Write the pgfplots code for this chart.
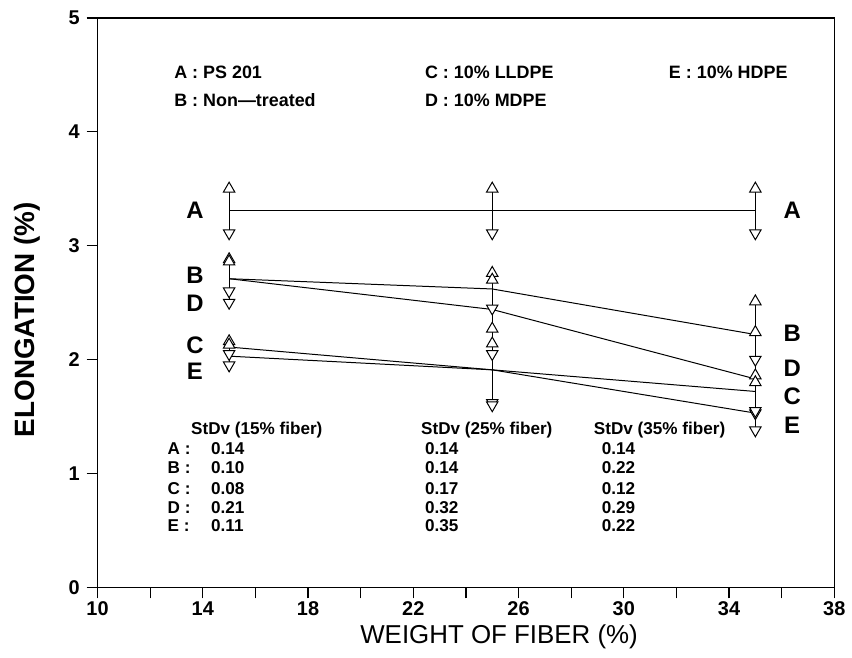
\documentclass[border=0pt]{standalone}
\usepackage{pgfplots}
\pgfplotsset{compat=1.18}
\usepackage{pgfplotstable}
\usepackage{fontspec}
\setmainfont{Liberation Sans}

% x = fiber weight, y = mean elongation, up/lo = ends of the error bar
\pgfplotstableread{
x  y    up   lo
15 3.31 3.50 3.11
25 3.31 3.50 3.11
35 3.31 3.50 3.11
}\dataA
\pgfplotstableread{
x  y    up   lo
15 2.71 2.88 2.60
25 2.62 2.76 2.45
35 2.22 2.51 2.00
}\dataB
\pgfplotstableread{
x  y    up   lo
15 2.11 2.16 2.05
25 1.91 2.14 1.62
35 1.72 1.86 1.53
}\dataC
\pgfplotstableread{
x  y    up   lo
15 2.71 2.86 2.50
25 2.44 2.70 2.05
35 1.83 2.24 1.55
}\dataD
\pgfplotstableread{
x  y    up   lo
15 2.03 2.13 1.95
25 1.91 2.27 1.60
35 1.53 1.80 1.38
}\dataE

\pgfplotsset{
  meanline/.style={black, line width=0.5pt, mark=none},
  ebar/.style={draw=none, mark=none, forget plot,
    error bars/.cd, y dir=both, y explicit,
    error bar style={black, line width=0.5pt}, error mark=none},
  upmark/.style={only marks, mark=triangle*, mark size=3.3pt,
    mark options={fill=white, draw=black, line width=0.5pt}},
  lomark/.style={only marks, mark=triangle*, mark size=3.3pt,
    mark options={fill=white, draw=black, line width=0.5pt, rotate=180}},
}

\newcommand{\series}[1]{%
  \addplot[meanline] table[x=x, y=y] {#1};
  \addplot[ebar] table[x=x, y=y,
    y error plus expr=\thisrow{up}-\thisrow{y},
    y error minus expr=\thisrow{y}-\thisrow{lo}] {#1};
  \addplot[upmark] table[x=x, y=up] {#1};
  \addplot[lomark] table[x=x, y=lo] {#1};
}

\begin{document}
\begin{tikzpicture}
\begin{axis}[
  scale only axis,
  width=370pt, height=286pt,
  xmin=10, xmax=38, ymin=0, ymax=5,
  xtick={10,12,...,38},
  xticklabels={10,,14,,18,,22,,26,,30,,34,,38},
  ytick={0,1,2,3,4,5},
  tick align=outside, xtick pos=bottom, ytick pos=left,
  major tick length=5.5pt,
  tick style={black, line width=0.6pt},
  axis line style={line width=0.7pt},
  xlabel={WEIGHT OF FIBER (\%)},
  ylabel={ELONGATION (\%)},
  every axis x label/.style={at={(axis description cs:0.545,0)},
    anchor=center, yshift=-25pt, font=\fontsize{13}{15}\selectfont},
  every axis y label/.style={at={(axis description cs:0,0.47)},
    xshift=-35.5pt, anchor=center, rotate=90,
    font=\bfseries\fontsize{14}{16}\selectfont},
  ticklabel style={font=\bfseries\fontsize{10}{11}\selectfont},
  xticklabel style={yshift=2pt},
  /pgf/number format/assume math mode=true,
  clip=false,
]
\series{\dataA}
\series{\dataB}
\series{\dataC}
\series{\dataD}
\series{\dataE}

% corners of the page around the axis
\coordinate (bl) at (rel axis cs:0,0);
\coordinate (tr) at (rel axis cs:1,1);

% curve letters
\begin{scope}[every node/.style={font=\bfseries\fontsize{12}{14}\selectfont}]
\node at (axis cs:13.7,3.31) {A};
\node at (axis cs:13.7,2.74) {B};
\node at (axis cs:13.7,2.49) {D};
\node at (axis cs:13.7,2.13) {C};
\node at (axis cs:13.7,1.90) {E};
\node at (axis cs:36.4,3.31) {A};
\node at (axis cs:36.4,2.23) {B};
\node at (axis cs:36.4,1.92) {D};
\node at (axis cs:36.4,1.68) {C};
\node at (axis cs:36.4,1.42) {E};
\end{scope}

% key
\begin{scope}[every node/.style={font=\bfseries\fontsize{9}{11}\selectfont, anchor=west}]
\node at (axis cs:12.65,4.52) {A : PS 201};
\node at (axis cs:12.65,4.28) {B : Non---treated};
\node at (axis cs:22.18,4.52) {C : 10\% LLDPE};
\node at (axis cs:22.18,4.28) {D : 10\% MDPE};
\node at (axis cs:31.45,4.52) {E : 10\% HDPE};
\end{scope}

% standard deviations
\begin{scope}[every node/.style={font=\bfseries\fontsize{8.6}{10}\selectfont, anchor=west}]
\node at (axis cs:13.29,1.38) {StDv (15\% fiber)};
\node at (axis cs:22.03,1.38) {StDv (25\% fiber)};
\node at (axis cs:28.60,1.38) {StDv (35\% fiber)};
\node at (axis cs:12.40,1.22) {A :};
\node at (axis cs:12.40,1.05) {B :};
\node at (axis cs:12.40,0.87) {C :};
\node at (axis cs:12.40,0.70) {D :};
\node at (axis cs:12.40,0.54) {E :};
\node at (axis cs:14.05,1.22) {0.14};
\node at (axis cs:14.05,1.05) {0.10};
\node at (axis cs:14.05,0.87) {0.08};
\node at (axis cs:14.05,0.70) {0.21};
\node at (axis cs:14.05,0.54) {0.11};
\node at (axis cs:22.18,1.22) {0.14};
\node at (axis cs:22.18,1.05) {0.14};
\node at (axis cs:22.18,0.87) {0.17};
\node at (axis cs:22.18,0.70) {0.32};
\node at (axis cs:22.18,0.54) {0.35};
\node at (axis cs:28.90,1.22) {0.14};
\node at (axis cs:28.90,1.05) {0.22};
\node at (axis cs:28.90,0.87) {0.12};
\node at (axis cs:28.90,0.70) {0.29};
\node at (axis cs:28.90,0.54) {0.22};
\end{scope}
\end{axis}
% page margins as in the reference
\path ([xshift=-49pt,yshift=-35pt]bl) ([xshift=7pt,yshift=9pt]tr);
\end{tikzpicture}
\end{document}
